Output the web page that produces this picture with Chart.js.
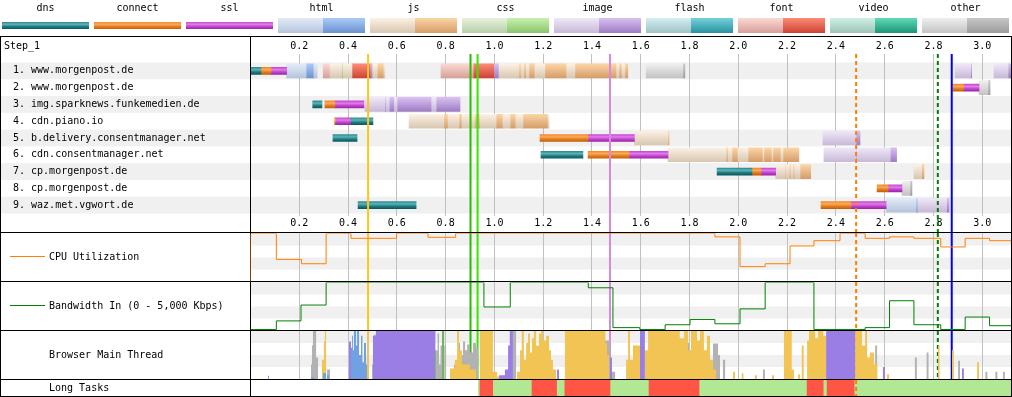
<!DOCTYPE html>
<html lang="en">
<head>
<meta charset="UTF-8">
<title>Waterfall</title>
<style>
  html, body { margin: 0; padding: 0; background: #fff; }
  #wrap { position: relative; width: 1012px; height: 397px; }
  canvas { position: absolute; }
</style>
</head>
<body>
<div id="wrap">
  <canvas id="wf" width="1012" height="397" style="left:0;top:0"></canvas>
  <canvas id="cpu" width="762" height="50" style="left:250px;top:232px"></canvas>
  <canvas id="bw" width="762" height="50" style="left:250px;top:281px"></canvas>
  <canvas id="mt" width="762" height="50" style="left:250px;top:330px"></canvas>
  <canvas id="lt" width="762" height="18" style="left:250px;top:379px"></canvas>
</div>
<script src="https://cdn.jsdelivr.net/npm/chart.js"></script>
<script>
// ---- data ----
const T_MAX = 3.118;
const rowLabels = ['1. www.morgenpost.de', '2. www.morgenpost.de', '3. img.sparknews.funkemedien.de',
  '4. cdn.piano.io', '5. b.delivery.consentmanager.net', '6. cdn.consentmanager.net',
  '7. cp.morgenpost.de', '8. cp.morgenpost.de', '9. waz.met.vgwort.de'];
const tickValues = [0.2, 0.4, 0.6, 0.8, 1.0, 1.2, 1.4, 1.6, 1.8, 2.0, 2.2, 2.4, 2.6, 2.8, 3.0];
const legendNames = ['dns', 'connect', 'ssl', 'html', 'js', 'css', 'image', 'flash', 'font', 'video', 'other'];

// connection phases: [row, start s, end s]
const dnsSegs = [[0, 0.001, 0.043], [2, 0.255, 0.293], [3, 0.412, 0.502], [4, 0.338, 0.437],
  [5, 1.191, 1.363], [6, 1.913, 2.056], [8, 0.441, 0.679]];
const connectSegs = [[0, 0.043, 0.084], [1, 2.879, 2.924], [2, 0.305, 0.346], [3, 0.345, 0.348],
  [4, 1.187, 1.384], [5, 1.384, 1.552], [6, 2.056, 2.093], [7, 2.569, 2.614], [8, 2.339, 2.462]];
const sslSegs = [[0, 0.084, 0.148], [1, 2.924, 2.987], [2, 0.346, 0.465], [3, 0.348, 0.412],
  [4, 1.384, 1.574], [5, 1.552, 1.712], [6, 2.093, 2.153], [7, 2.614, 2.671], [8, 2.462, 2.606]];

// requests: [row, start s, end s, 0 = waiting / 1 = downloading]
const htmlSegs = [[0, 0.148, 0.228, 0], [0, 0.228, 0.260, 1], [0, 0.260, 0.273, 0],
  [8, 2.606, 2.729, 0], [8, 2.729, 2.733, 1]];
const jsSegs = [
  [0, 0.326, 0.374, 0], [0, 0.380, 0.416, 0], [0, 0.501, 0.520, 0], [0, 0.520, 0.547, 1], [0, 0.547, 0.551, 0],
  [0, 1.019, 1.101, 0], [0, 1.101, 1.109, 1], [0, 1.109, 1.121, 0], [0, 1.121, 1.130, 1], [0, 1.130, 1.142, 0],
  [0, 1.142, 1.166, 1], [0, 1.166, 1.207, 0], [0, 1.207, 1.296, 1], [0, 1.296, 1.330, 0], [0, 1.330, 1.501, 1],
  [0, 1.501, 1.511, 0], [0, 1.511, 1.523, 1], [0, 1.523, 1.535, 0], [0, 1.535, 1.547, 1],
  [3, 0.650, 0.793, 0], [3, 0.793, 0.810, 1], [3, 0.810, 0.855, 0], [3, 0.855, 0.867, 1], [3, 0.867, 0.920, 0],
  [3, 0.920, 0.941, 1], [3, 0.941, 1.007, 0], [3, 1.007, 1.035, 1], [3, 1.035, 1.064, 0], [3, 1.064, 1.088, 1],
  [3, 1.088, 1.117, 0], [3, 1.117, 1.220, 1], [3, 1.220, 1.224, 0],
  [4, 1.574, 1.712, 0], [4, 1.712, 1.716, 1],
  [5, 1.712, 1.950, 0], [5, 1.950, 1.958, 1], [5, 1.958, 1.974, 0], [5, 1.974, 1.999, 1], [5, 1.999, 2.040, 0],
  [5, 2.040, 2.101, 1], [5, 2.101, 2.105, 0], [5, 2.105, 2.138, 1], [5, 2.138, 2.142, 0], [5, 2.142, 2.175, 1],
  [5, 2.175, 2.183, 0], [5, 2.183, 2.248, 1],
  [6, 2.153, 2.191, 0], [6, 2.191, 2.195, 1], [6, 2.195, 2.209, 0], [6, 2.209, 2.215, 1], [6, 2.215, 2.225, 0],
  [6, 2.225, 2.231, 1], [6, 2.231, 2.253, 0], [6, 2.253, 2.297, 1], [6, 2.720, 2.752, 0], [6, 2.752, 2.761, 1]];
const cssSegs = [[0, 0.374, 0.380, 1]];
const imageSegs = [
  [0, 0.493, 0.501, 1], [0, 1.000, 1.019, 1], [0, 2.889, 2.953, 0], [0, 2.953, 2.957, 1],
  [0, 3.048, 3.106, 0], [0, 3.106, 3.117, 1],
  [2, 0.469, 0.551, 0], [2, 0.551, 0.556, 1], [2, 0.556, 0.569, 0], [2, 0.569, 0.590, 1], [2, 0.590, 0.601, 0],
  [2, 0.601, 0.743, 1], [2, 0.743, 0.761, 0], [2, 0.761, 0.859, 1],
  [4, 2.347, 2.483, 0], [4, 2.483, 2.499, 1],
  [5, 2.351, 2.483, 0], [5, 2.483, 2.487, 1], [5, 2.487, 2.623, 0], [5, 2.623, 2.649, 1],
  [8, 2.733, 2.854, 0], [8, 2.854, 2.864, 1]];
const fontSegs = [[0, 0.298, 0.326, 0], [0, 0.416, 0.493, 1], [0, 0.781, 0.913, 0], [0, 0.913, 1.000, 1]];
const otherSegs = [[0, 1.622, 1.773, 0], [0, 1.773, 1.781, 1], [1, 2.987, 3.024, 0], [1, 3.024, 3.032, 1],
  [7, 2.671, 2.704, 0], [7, 2.704, 2.712, 1]];

// page event markers (s)
const markerTimes = [0.482, 0.902, 0.931, 1.474, 2.483, 2.818, 2.875];

// CPU utilization (%), stepped
const cpuTimes = [0, 0, 0.106, 0.209, 0.31, 0.412, 0.599, 0.728, 0.841, 1.904, 2.007, 2.11, 2.212,
  2.31, 2.417, 2.52, 2.62, 2.72, 2.83, 2.93, 3.03, 3.118];
const cpuValues = [0, 100, 46, 37, 100, 90, 100, 92, 100, 93, 31, 37, 74, 85, 100, 90, 93, 90, 72, 90, 85, 85];

// Bandwidth in (Kbps), stepped
const bwTimes = [0, 0.106, 0.207, 0.31, 0.957, 1.065, 1.385, 1.486, 1.596, 1.70, 1.802, 1.904, 2.007,
  2.11, 2.31, 2.52, 2.62, 2.72, 2.83, 2.93, 3.03, 3.118];
const bwKbps = [100, 1000, 2650, 5000, 2450, 5000, 4450, 300, 100, 600, 1150, 700, 2250, 5000, 100, 300,
  3100, 600, 100, 1400, 500, 500];

// main thread activity: [t, % busy]
const mtOther = [[0, 0], [0.248, 30], [0.252, 70], [0.256, 100], [0.269, 45], [0.277, 0], [0.314, 20], [0.326, 0],
  [0.498, 30], [0.506, 92], [0.519, 0], [0.761, 60], [0.767, 95], [0.773, 30], [0.779, 70], [0.785, 0],
  [0.795, 70], [0.802, 0], [0.834, 30], [0.852, 75], [0.859, 50], [0.871, 78], [0.880, 60], [0.888, 72],
  [0.900, 55], [0.912, 75], [0.925, 65], [0.933, 0], [1.076, 100], [1.089, 0], [1.445, 80], [1.475, 15],
  [1.495, 0], [1.601, 40], [1.609, 0], [1.781, 75], [1.798, 0], [1.896, 74], [1.917, 50], [1.925, 0],
  [1.937, 40], [1.946, 0], [2.101, 20], [2.109, 0], [2.561, 70], [2.569, 0], [2.724, 45], [2.732, 0],
  [2.772, 55], [2.780, 0], [2.901, 38], [2.909, 0], [3.013, 15], [3.021, 0], [3.054, 15], [3.062, 0],
  [3.085, 15], [3.093, 0]];
const mtScript = [[0, 0], [0.293, 40], [0.301, 78], [0.305, 100], [0.310, 0], [0.478, 100], [0.486, 0],
  [0.818, 22], [0.838, 40], [0.847, 100], [0.855, 60], [0.867, 30], [0.900, 20], [0.925, 0],
  [0.941, 100], [0.994, 15], [1.011, 5], [1.019, 0],
  [1.093, 15], [1.105, 60], [1.112, 100], [1.121, 40], [1.130, 75], [1.138, 95], [1.146, 55], [1.154, 85],
  [1.162, 100], [1.171, 70], [1.183, 95], [1.191, 100], [1.199, 80], [1.212, 90], [1.224, 60], [1.232, 40],
  [1.240, 20], [1.253, 0], [1.289, 100], [1.455, 75], [1.462, 50], [1.470, 0],
  [1.540, 40], [1.548, 100], [1.556, 40], [1.568, 70], [1.597, 0], [1.617, 60], [1.630, 100], [1.760, 85],
  [1.777, 100], [1.794, 60], [1.806, 100], [1.831, 80], [1.843, 100], [1.859, 60], [1.871, 90], [1.884, 40],
  [1.896, 20], [1.909, 0], [1.978, 15], [1.986, 0], [2.014, 12], [2.021, 0], [2.068, 8], [2.076, 0],
  [2.138, 8], [2.146, 0], [2.187, 100], [2.219, 20], [2.228, 0], [2.245, 10], [2.253, 0], [2.260, 70],
  [2.268, 0], [2.282, 80], [2.290, 100], [2.315, 85], [2.327, 100], [2.348, 90], [2.360, 0],
  [2.479, 100], [2.507, 70], [2.520, 100], [2.528, 45], [2.540, 55], [2.556, 30], [2.570, 0],
  [2.610, 10], [2.618, 0], [2.819, 70], [2.825, 0], [2.876, 60], [2.884, 0], [2.979, 35], [2.987, 0]];
const mtParse = [[0, 0], [0.072, 7], [0.076, 0], [0.248, 3], [0.260, 0], [0.297, 12], [0.310, 0], [0.314, 8],
  [0.322, 0], [0.408, 65], [0.416, 90], [0.420, 60], [0.424, 100], [0.433, 70], [0.437, 100], [0.445, 50],
  [0.453, 90], [0.459, 35], [0.465, 75], [0.474, 30], [0.478, 0]];
const mtLayout = [[0, 0], [0.404, 78], [0.412, 0], [0.502, 90], [0.514, 100], [0.758, 0], [1.019, 8],
  [1.043, 20], [1.056, 70], [1.063, 100], [1.076, 0], [1.257, 20], [1.265, 0], [1.474, 45], [1.482, 0],
  [1.597, 100], [1.617, 0], [2.360, 100], [2.479, 0], [2.593, 25], [2.601, 0], [2.917, 22], [2.925, 0]];
const mtPaint = [[0, 0], [0.757, 60], [0.761, 0], [0.785, 100], [0.795, 0]];

// long tasks: [start, end]
const ltLong = [[0.941, 0.993], [1.154, 1.255], [1.289, 1.474], [1.634, 1.839], [2.282, 2.348], [2.364, 2.475]];
const ltShort = [[0.934, 0.941], [0.993, 1.154], [1.255, 1.289], [1.474, 1.634], [1.839, 2.282],
  [2.348, 2.364], [2.475, 3.118]];

// ---- styles ----
const FONT = '10px "DejaVu Sans Mono", "Liberation Mono", monospace';
const markerColors = ['#ffc61a', '#28bc00', '#39e600', '#d888df', '#ff8000', '#008000', '#0000ff'];
const markerDashed = [0, 0, 0, 0, 1, 1, 0];
const phaseColors = {
  dns: ['#2f8b91', '#5db3b7', '#1f7a80', '#0b5a60'],
  connect: ['#f08a2a', '#fbab5c', '#e57b1c', '#c0620a'],
  ssl: ['#c549d0', '#e27de9', '#c043cc', '#9c27a9']
};
const reqColors = {
  html: { light: ['#e3ebf9', '#b5c4db'], dark: ['#aacaf8', '#6b92cf'] },
  js: { light: ['#fcf1e4', '#d8c7b1'], dark: ['#fcd5a5', '#d59d69'] },
  css: { light: ['#e6f3dc', '#b8cea9'], dark: ['#c7f2af', '#8bc36b'] },
  image: { light: ['#efe8f8', '#c8b9d7'], dark: ['#d8c0f3', '#9e7cc3'] },
  flash: { light: ['#d3eef0', '#9fc3c6'], dark: ['#74d1da', '#28939e'] },
  font: { light: ['#fcd8d2', '#d5a099'], dark: ['#fc8b76', '#cf4332'] },
  video: { light: ['#cfefe5', '#9ec4b8'], dark: ['#60dab9', '#1c9476'] },
  other: { light: ['#efefef', '#c3c3c3'], dark: ['#c6c6c6', '#9c9c9c'] }
};
const mtColors = { other: '#b2b2b2', script: '#f1c453', parse: '#70a2e3', layout: '#9a7ee6', paint: '#71b363' };

Chart.defaults.animation = false;

function makeGrad(ctx, y0, h, cols) {
  const g = ctx.createLinearGradient(0, y0, 0, y0 + h);
  cols.forEach((c, i) => g.addColorStop(i / (cols.length - 1), c));
  return g;
}
function rowGrad(chart, row, h, cols) {
  const ys = chart.scales && chart.scales.y;
  const yc = ys ? ys.getPixelForValue(row) : NaN;
  if (!isFinite(yc)) return cols[0];
  return makeGrad(chart.ctx, yc - h / 2, h, cols);
}

const wfDatasets = [];
function addPhase(segs, key) {
  const cols = phaseColors[key];
  wfDatasets.push({
    data: segs.map(s => ({ x: [s[1], s[2]], y: rowLabels[s[0]], row: s[0] })),
    barThickness: 7,
    backgroundColor: c => (c.raw && c.raw.row !== undefined) ? rowGrad(c.chart, c.raw.row, 7, cols) : cols[0]
  });
}
function addRequest(segs, key) {
  [0, 1].forEach(dark => {
    const sub = segs.filter(s => s[3] === dark);
    if (!sub.length) return;
    const cols = dark ? reqColors[key].dark : reqColors[key].light;
    wfDatasets.push({
      data: sub.map(s => ({ x: [s[1], s[2]], y: rowLabels[s[0]], row: s[0] })),
      barThickness: 14,
      backgroundColor: c => (c.raw && c.raw.row !== undefined) ? rowGrad(c.chart, c.raw.row, 14, cols) : cols[0]
    });
  });
}
addPhase(dnsSegs, 'dns');
addPhase(connectSegs, 'connect');
addPhase(sslSegs, 'ssl');
addRequest(htmlSegs, 'html');
addRequest(jsSegs, 'js');
addRequest(cssSegs, 'css');
addRequest(imageSegs, 'image');
addRequest(fontSegs, 'font');
addRequest(otherSegs, 'other');

function drawGrid(chart, y0, y1) {
  const c = chart.ctx, xs = chart.scales.x;
  c.save();
  c.strokeStyle = '#c0c0c0';
  c.lineWidth = 1;
  tickValues.forEach(t => {
    const px = Math.floor(xs.getPixelForValue(t)) + 0.5;
    c.beginPath(); c.moveTo(px, y0); c.lineTo(px, y1); c.stroke();
  });
  c.restore();
}
function drawMarkers(chart, y0, y1, dashedOnly) {
  const c = chart.ctx, xs = chart.scales.x;
  markerTimes.forEach((t, i) => {
    if (dashedOnly && i !== 4) return;
    const px = xs.getPixelForValue(t);
    c.save();
    c.strokeStyle = markerColors[i];
    c.lineWidth = 2;
    c.setLineDash(markerDashed[i] ? [4, 3] : []);
    c.beginPath(); c.moveTo(px, y0); c.lineTo(px, y1); c.stroke();
    c.restore();
  });
}

function hline(c, x0, x1, y) { c.beginPath(); c.moveTo(x0, y); c.lineTo(x1, y); c.stroke(); }
function vline(c, x, y0, y1) { c.beginPath(); c.moveTo(x, y0); c.lineTo(x, y1); c.stroke(); }

const framePlugin = {
  id: 'frame',
  beforeDraw(chart) {
    const c = chart.ctx, xs = chart.scales.x, ys = chart.scales.y;
    c.save();
    c.fillStyle = '#fff';
    c.fillRect(0, 0, chart.width, chart.height);

    // legend
    c.font = FONT;
    c.textBaseline = 'middle';
    c.textAlign = 'center';
    legendNames.forEach((n, i) => {
      const x0 = 2 + 92 * i;
      c.fillStyle = '#000';
      c.fillText(n, x0 + 43.5, 8);
      if (phaseColors[n]) {
        c.fillStyle = makeGrad(c, 22, 7, phaseColors[n]);
        c.fillRect(x0, 22, 87, 7);
      } else {
        c.fillStyle = makeGrad(c, 18, 15, reqColors[n].light);
        c.fillRect(x0, 18, 45, 15);
        c.fillStyle = makeGrad(c, 18, 15, reqColors[n].dark);
        c.fillRect(x0 + 45, 18, 42, 15);
      }
    });

    // row stripes
    const band = ys.getPixelForValue(1) - ys.getPixelForValue(0);
    c.fillStyle = '#f0f0f0';
    rowLabels.forEach((l, i) => {
      if (i % 2 === 0) c.fillRect(1, ys.getPixelForValue(i) - band / 2, 1010, band);
    });

    // labels
    c.fillStyle = '#000';
    c.textAlign = 'left';
    c.fillText('Step_1', 4, 46);
    rowLabels.forEach((l, i) => c.fillText(l, 13, ys.getPixelForValue(i)));
    c.textAlign = 'center';
    tickValues.forEach(t => {
      const px = xs.getPixelForValue(t);
      c.fillText(t.toFixed(1), px, 46);
      c.fillText(t.toFixed(1), px, 223);
    });

    // lower panel captions
    c.textAlign = 'left';
    c.lineWidth = 1;
    c.strokeStyle = '#ff8000';
    hline(c, 10, 45, 256.5);
    c.fillText('CPU Utilization', 49, 257);
    c.strokeStyle = '#008000';
    hline(c, 10, 45, 305.5);
    c.fillText('Bandwidth In (0 - 5,000 Kbps)', 49, 306);
    c.fillText('Browser Main Thread', 49, 355);
    c.fillText('Long Tasks', 49, 388);
    c.restore();

    drawGrid(chart, 54, 216);
  },
  afterDatasetsDraw(chart) {
    drawMarkers(chart, 54, 232, false);
  },
  afterDraw(chart) {
    const c = chart.ctx;
    c.save();
    c.strokeStyle = '#000';
    c.lineWidth = 1;
    [36.5, 232.5, 281.5, 330.5, 379.5, 396.5].forEach(y => hline(c, 0, 1012, y));
    [0.5, 250.5, 1011.5].forEach(x => vline(c, x, 36, 397));
    c.restore();
  }
};

const wfChart = new Chart(document.getElementById('wf'), {
  type: 'bar',
  data: { labels: rowLabels, datasets: wfDatasets },
  options: {
    responsive: false,
    indexAxis: 'y',
    events: [],
    layout: { padding: { left: 250.5, right: 1, top: 62.5, bottom: 183.5 } },
    datasets: { bar: { grouped: false, borderWidth: 0 } },
    scales: {
      x: { type: 'linear', min: 0, max: T_MAX, display: false },
      y: { type: 'category', display: false }
    },
    plugins: { legend: { display: false }, tooltip: { enabled: false } }
  },
  plugins: [framePlugin]
});
// second pass so the per-row gradients see a laid-out y scale
wfChart.update();

// ---- lower panels ----
const panelPlugin = {
  id: 'panel',
  beforeDatasetsDraw(chart, args, o) {
    const c = chart.ctx, ys = chart.scales.y;
    const h = chart.height;
    if (o.stripes) {
      const m = ys.max;
      c.save();
      c.fillStyle = '#f0f0f0';
      const y75 = ys.getPixelForValue(m * 0.75), y50 = ys.getPixelForValue(m * 0.5), y25 = ys.getPixelForValue(m * 0.25);
      c.fillRect(1, 1, 760, y75 - 1);
      c.fillRect(1, y50, 760, y25 - y50);
      c.restore();
      drawGrid(chart, 1, h - 1);
      drawMarkers(chart, 1, h - 1, false);
    }
  },
  afterDatasetsDraw(chart, args, o) {
    if (o.dashedOnTop) drawMarkers(chart, 1, chart.height - 1, true);
  }
};

function panelOptions(yMax, padTop, padBottom, extra) {
  return {
    responsive: false,
    events: [],
    layout: { padding: { left: 0.5, right: 1, top: padTop, bottom: padBottom } },
    scales: {
      x: { type: 'linear', min: 0, max: T_MAX, display: false },
      y: { type: 'linear', min: 0, max: yMax, display: false }
    },
    elements: { point: { radius: 0 } },
    plugins: Object.assign({ legend: { display: false }, tooltip: { enabled: false } }, extra)
  };
}

new Chart(document.getElementById('cpu'), {
  type: 'line',
  data: {
    datasets: [{
      data: cpuTimes.map((t, i) => ({ x: t, y: cpuValues[i] })),
      stepped: 'before', borderColor: '#ff8000', borderWidth: 1, fill: false
    }]
  },
  options: panelOptions(100, 1.5, 0.5, { panel: { stripes: true } }),
  plugins: [panelPlugin]
});

new Chart(document.getElementById('bw'), {
  type: 'line',
  data: {
    datasets: [{
      data: bwTimes.map((t, i) => ({ x: t, y: bwKbps[i] })),
      stepped: 'before', borderColor: '#008000', borderWidth: 1, fill: false
    }]
  },
  options: panelOptions(5000, 1.5, 0.5, { panel: { stripes: true } }),
  plugins: [panelPlugin]
});

function mtSet(points, color) {
  return {
    data: points.map(p => ({ x: p[0], y: p[1] })),
    stepped: 'before', borderWidth: 0, borderColor: 'rgba(0,0,0,0)',
    backgroundColor: color, fill: 'origin'
  };
}
new Chart(document.getElementById('mt'), {
  type: 'line',
  data: {
    datasets: [
      mtSet(mtPaint, mtColors.paint),
      mtSet(mtLayout, mtColors.layout),
      mtSet(mtParse, mtColors.parse),
      mtSet(mtScript, mtColors.script),
      mtSet(mtOther, mtColors.other)
    ]
  },
  options: panelOptions(100, 1, 1, { panel: { stripes: true }, filler: { propagate: false } }),
  plugins: [panelPlugin]
});

new Chart(document.getElementById('lt'), {
  type: 'bar',
  data: {
    labels: ['Long Tasks'],
    datasets: [
      { data: ltLong.map(s => ({ x: s, y: 'Long Tasks' })), backgroundColor: '#ff5544' },
      { data: ltShort.map(s => ({ x: s, y: 'Long Tasks' })), backgroundColor: '#b2e894' }
    ]
  },
  options: {
    responsive: false,
    indexAxis: 'y',
    events: [],
    layout: { padding: { left: 0.5, right: 1, top: 1, bottom: 1 } },
    datasets: { bar: { grouped: false, borderWidth: 0, barPercentage: 1, categoryPercentage: 1 } },
    scales: {
      x: { type: 'linear', min: 0, max: T_MAX, display: false },
      y: { type: 'category', display: false }
    },
    plugins: { legend: { display: false }, tooltip: { enabled: false }, panel: { dashedOnTop: true } }
  },
  plugins: [panelPlugin]
});
</script>
</body>
</html>
